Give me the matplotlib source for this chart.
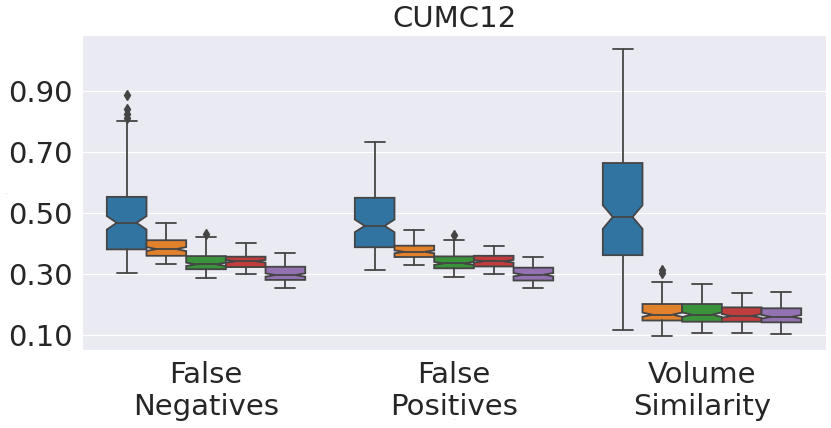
import numpy as np
import matplotlib.pyplot as plt
import seaborn as sns

sns.set_style("darkgrid")
plt.rcParams['font.family'] = ['DejaVu Sans']

categories = ["False\nNegatives", "False\nPositives", "Volume\nSimilarity"]
n_hues = 5
colors = ["#3274a1", "#e1812c", "#3a923a", "#c03d3e", "#9372b2"]

# per category, per hue: q1, median, q3, whisker low, whisker high
q1 = [[0.380, 0.359, 0.315, 0.322, 0.280],
      [0.387, 0.355, 0.318, 0.324, 0.278],
      [0.361, 0.147, 0.143, 0.143, 0.141]]
med = [[0.467, 0.381, 0.331, 0.341, 0.296],
       [0.457, 0.372, 0.334, 0.341, 0.297],
       [0.486, 0.166, 0.166, 0.162, 0.159]]
q3 = [[0.552, 0.410, 0.358, 0.356, 0.323],
      [0.549, 0.392, 0.357, 0.359, 0.320],
      [0.663, 0.201, 0.201, 0.190, 0.187]]
whislo = [[0.304, 0.333, 0.287, 0.299, 0.254],
          [0.314, 0.328, 0.291, 0.298, 0.252],
          [0.116, 0.097, 0.105, 0.105, 0.103]]
whishi = [[0.802, 0.466, 0.421, 0.400, 0.369],
          [0.732, 0.444, 0.411, 0.392, 0.355],
          [1.036, 0.274, 0.268, 0.238, 0.239]]
fliers = [[[0.886, 0.841, 0.825, 0.810], [], [0.430], [], []],
          [[], [], [0.427], [], []],
          [[], [0.301, 0.311], [], [], []]]
n_subjects = 150

fig, ax = plt.subplots(figsize=(8.31, 4.28), dpi=100)
plt.subplots_adjust(left=0.0987, right=0.994, bottom=0.182, top=0.918)

gray = "#454545"
lw = 1.3
w = 0.8 / n_hues
for i in range(len(categories)):
    for j in range(n_hues):
        iqr = q3[i][j] - q1[i][j]
        half = 1.57 * iqr / np.sqrt(n_subjects)
        stats = [dict(med=med[i][j], q1=q1[i][j], q3=q3[i][j],
                      whislo=whislo[i][j], whishi=whishi[i][j],
                      fliers=fliers[i][j],
                      cilo=med[i][j] - half, cihi=med[i][j] + half)]
        pos = i - 0.4 + w / 2 + w * j
        ax.bxp(stats, positions=[pos], widths=w, shownotches=True,
               patch_artist=True, manage_ticks=False,
               boxprops=dict(facecolor=colors[j], edgecolor=gray, linewidth=lw),
               whiskerprops=dict(color=gray, linewidth=lw),
               capprops=dict(color=gray, linewidth=lw),
               medianprops=dict(color=gray, linewidth=lw),
               flierprops=dict(marker='d', markerfacecolor=gray,
                               markeredgecolor=gray, markersize=5))

ax.set_xlim(-0.5, 2.5)
ax.set_ylim(0.05, 1.082)
ax.set_xticks(range(len(categories)))
ax.set_xticklabels(categories, fontsize=21)
ax.set_yticks([0.1, 0.3, 0.5, 0.7, 0.9])
ax.set_yticklabels(["0.10", "0.30", "0.50", "0.70", "0.90"], fontsize=21)
ax.grid(axis='x', visible=False)
ax.tick_params(axis='x', pad=4)
ax.set_title("CUMC12", fontsize=21, pad=6)
ax.set_ylabel("-", fontsize=2)
ax.set_xlabel("-", fontsize=2)
ax.yaxis.set_label_coords(-0.098, 0.5)
ax.xaxis.set_label_coords(0.5, -0.215)

plt.savefig("out.png", dpi=100)
